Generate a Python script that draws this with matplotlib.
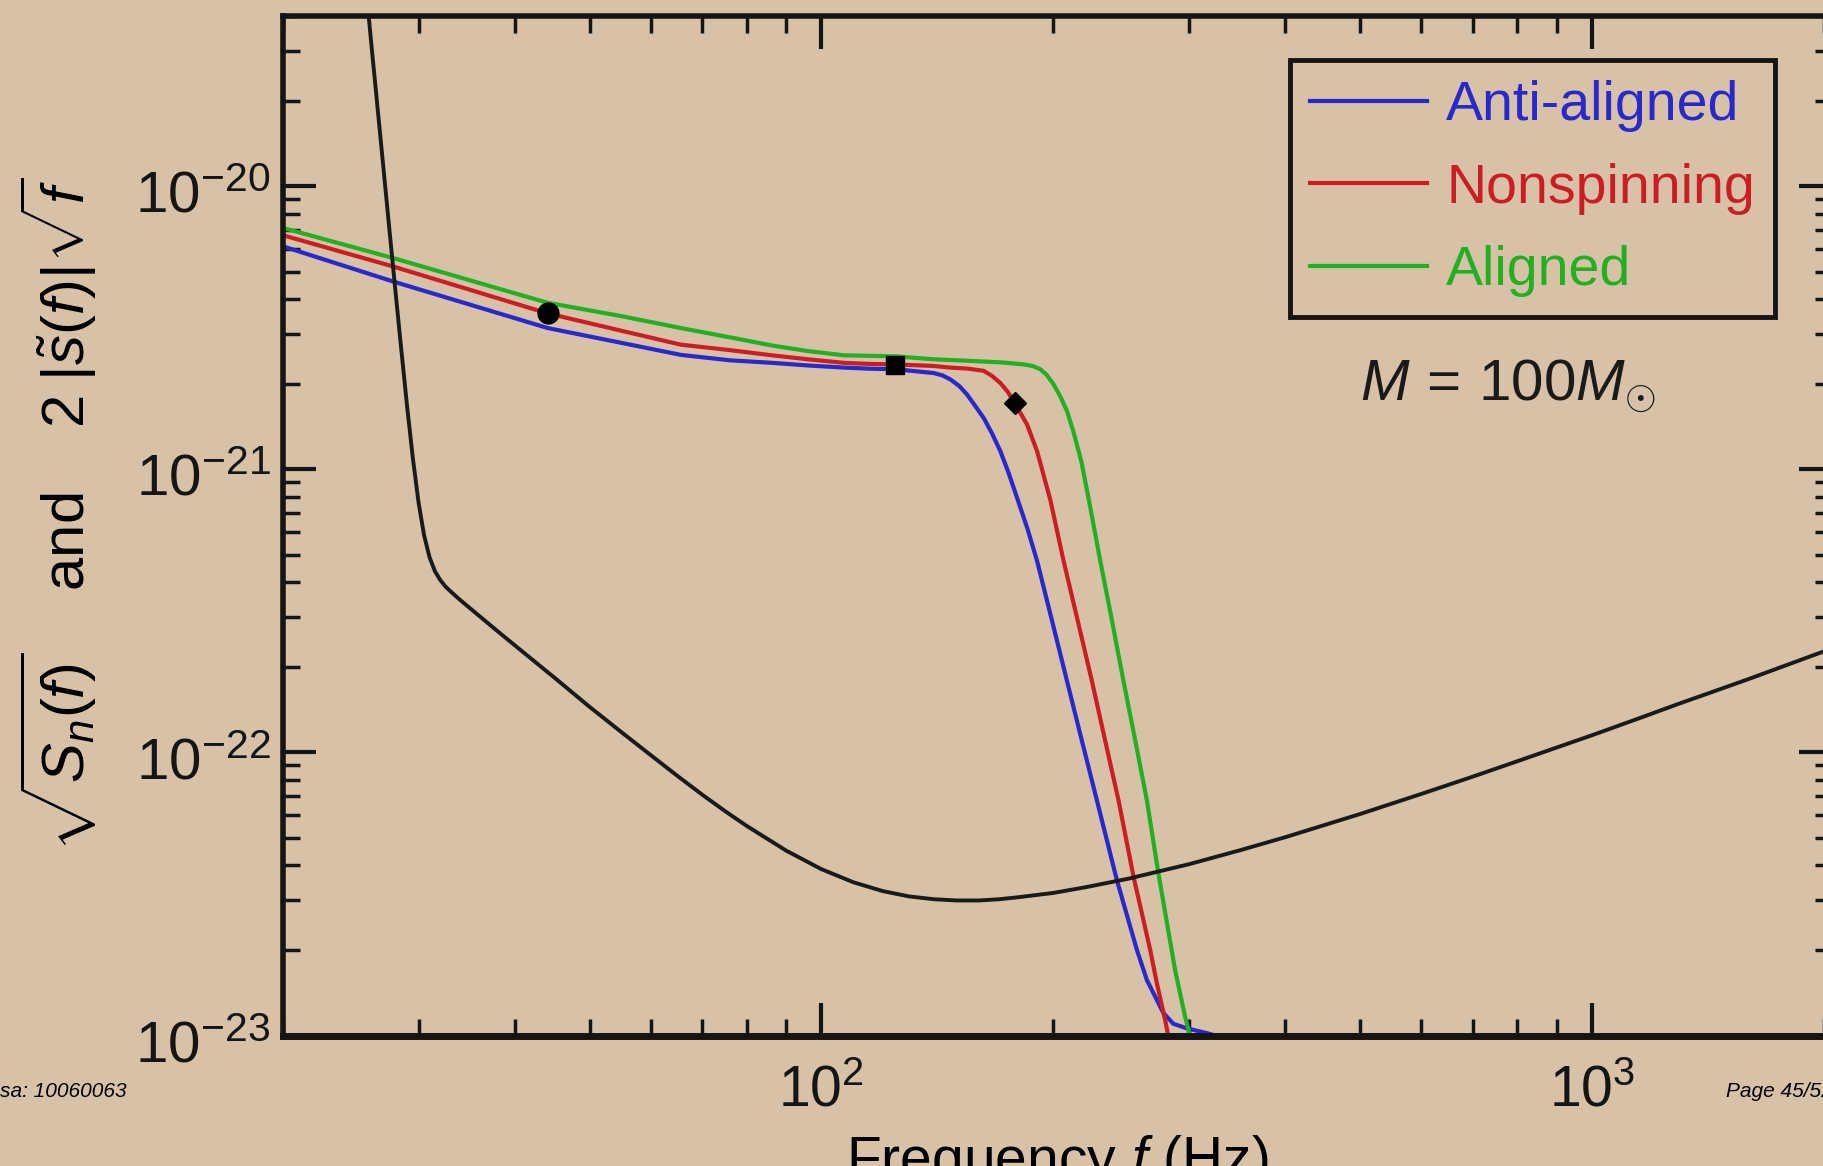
import numpy as np
import matplotlib
matplotlib.use('Agg')
import matplotlib.pyplot as plt
import matplotlib.transforms as mtransforms
from matplotlib.ticker import LogLocator, NullFormatter

bg = '#d7c2a7'

# detector noise, sqrt(Sn(f))
noise_f = [25, 25.5, 26, 26.5, 27, 27.5, 28, 28.5, 29, 29.5,
           30, 30.5, 31, 31.5, 32, 32.5, 33, 34, 35, 36,
           38, 40, 45, 50, 55, 60, 65, 70, 75, 80,
           90, 100, 110, 120, 130, 140, 150, 160, 170, 180,
           200, 220, 250, 300, 350, 400, 500, 600, 700, 800,
           900, 1000, 1150, 1300, 1450, 1600, 1800, 2048]
noise_amp = [1.0e-19, 5.87e-20, 3.35e-20, 1.97e-20, 1.17e-20, 6.99e-21, 4.24e-21, 2.62e-21, 1.65e-21, 1.087e-21,
             7.62e-22, 5.84e-22, 4.89e-22, 4.37e-22, 4.07e-22, 3.86e-22, 3.71e-22, 3.45e-22, 3.23e-22, 3.03e-22,
             2.68e-22, 2.39e-22, 1.84e-22, 1.45e-22, 1.18e-22, 9.8e-23, 8.27e-23, 7.1e-23, 6.2e-23, 5.5e-23,
             4.5e-23, 3.87e-23, 3.48e-23, 3.24e-23, 3.10e-23, 3.03e-23, 3.0e-23, 3.0e-23, 3.03e-23, 3.08e-23,
             3.19e-23, 3.34e-23, 3.58e-23, 4.03e-23, 4.52e-23, 5.02e-23, 6.06e-23, 7.13e-23, 8.21e-23, 9.31e-23,
             1.041e-22, 1.15e-22, 1.319e-22, 1.49e-22, 1.655e-22, 1.82e-22, 2.048e-22, 2.33e-22]

# 2|s(f)|sqrt(f) for the three spin cases
anti_f = [20, 27.75, 44.1, 55, 65.65, 76, 86.3, 96, 106.9, 115,
          124.7, 139.9, 143.5, 147.0, 151, 154.5, 158, 162.4, 166.5, 170.7,
          175, 179.4, 185, 190.5, 199.2, 208.3, 217.8, 227.8, 241.8, 256.8,
          264.5, 277.9, 286.3, 298.1, 316.4, 326.0, 340]
anti_amp = [6.14e-21, 4.62e-21, 3.16e-21, 2.80e-21, 2.54e-21, 2.43e-21, 2.38e-21, 2.33e-21, 2.29e-21, 2.27e-21,
            2.26e-21, 2.19e-21, 2.15e-21, 2.08e-21, 1.97e-21, 1.84e-21, 1.69e-21, 1.52e-21, 1.34e-21, 1.16e-21,
            9.7e-22, 7.95e-22, 6.2e-22, 4.75e-22, 2.92e-22, 1.79e-22, 1.10e-22, 6.77e-23, 3.54e-23, 2.00e-23,
            1.57e-23, 1.20e-23, 1.10e-23, 1.06e-23, 1.02e-23, 9.96e-24, 8e-24]

non_f = [20, 27.75, 44.1, 55, 65.65, 76, 86.3, 96, 106.9, 115,
         124.7, 139.9, 147.0, 155, 162.4, 166.5, 170.7, 174.5, 178.1, 184.9,
         190.5, 198.2, 206.2, 215.1, 224.4, 233.5, 243.0, 254.2, 267.2, 272.5,
         279.4, 282.1, 288]
non_amp = [6.72e-21, 5.22e-21, 3.56e-21, 3.09e-21, 2.76e-21, 2.64e-21, 2.53e-21, 2.45e-21, 2.38e-21, 2.36e-21,
           2.35e-21, 2.32e-21, 2.29e-21, 2.27e-21, 2.23e-21, 2.14e-21, 2.02e-21, 1.88e-21, 1.72e-21, 1.44e-21,
           1.16e-21, 7.8e-22, 4.75e-22, 2.92e-22, 1.79e-22, 1.10e-22, 6.77e-23, 3.63e-23, 2.00e-23, 1.53e-23,
           1.13e-23, 9.9e-24, 7e-24]

al_f = [20, 27.75, 44.1, 55, 65.65, 76, 86.3, 96, 106.9, 115,
        124.7, 139.9, 155, 170.7, 183.0, 188, 192.3, 196, 200.1, 204,
        208.3, 212.5, 217.4, 223, 230.1, 238.3, 246.6, 255.5, 264.5, 273.8,
        287.8, 296.6, 299.5, 303]
al_amp = [7.13e-21, 5.59e-21, 3.88e-21, 3.48e-21, 3.16e-21, 2.93e-21, 2.74e-21, 2.62e-21, 2.53e-21, 2.52e-21,
          2.51e-21, 2.45e-21, 2.42e-21, 2.39e-21, 2.35e-21, 2.32e-21, 2.26e-21, 2.16e-21, 2.00e-21, 1.82e-21,
          1.61e-21, 1.35e-21, 1.07e-21, 7.5e-22, 4.75e-22, 2.92e-22, 1.79e-22, 1.10e-22, 6.77e-23, 3.73e-23,
          1.70e-23, 1.16e-23, 1.05e-23, 7e-24]

mark_f = [44.1, 124.7, 178.1]
mark_amp = [3.56e-21, 2.34e-21, 1.72e-21]
mark_sym = ['o', 's', 'D']
mark_size = [15, 13, 11]

plt.rcParams['font.family'] = ['Liberation Sans', 'DejaVu Sans']
plt.rcParams['mathtext.fontset'] = 'custom'
plt.rcParams['mathtext.rm'] = 'Liberation Sans'
plt.rcParams['mathtext.it'] = 'Liberation Sans:italic'
plt.rcParams['mathtext.bf'] = 'Liberation Sans:bold'

fig = plt.figure(figsize=(18.23, 11.66), dpi=100, facecolor=bg)
ax = fig.add_axes([0.1552, 0.1119, 0.8496, 0.8744], facecolor=bg)

ax.loglog(anti_f, anti_amp, color='#2828cc', lw=3, label='Anti-aligned')
ax.loglog(non_f, non_amp, color='#cc1c26', lw=3, label='Nonspinning')
ax.loglog(al_f, al_amp, color='#22b022', lw=3, label='Aligned')
ax.loglog(noise_f, noise_amp, color='#1a1a1a', lw=2.8, zorder=3)
for f, a, m, s in zip(mark_f, mark_amp, mark_sym, mark_size):
    ax.plot(f, a, marker=m, color='k', ms=s, ls='none', zorder=4)

ax.set_xlim(20, 2048)
ax.set_ylim(1e-23, 4e-20)

ax.yaxis.set_minor_locator(LogLocator(base=10, subs=np.arange(2, 10), numticks=20))
ax.xaxis.set_minor_locator(LogLocator(base=10, subs=np.arange(2, 10), numticks=20))
ax.xaxis.set_minor_formatter(NullFormatter())
ax.yaxis.set_minor_formatter(NullFormatter())
ax.tick_params(which='both', direction='in', top=True, right=True, colors='#151515')
ax.tick_params(which='major', length=24, width=3)
ax.tick_params(which='minor', length=12.5, width=2.5)
ax.tick_params(axis='x', which='major', labelsize=41, pad=21)
ax.tick_params(axis='y', which='major', labelsize=42, pad=9)
for side in ['left', 'top', 'right']:
    ax.spines[side].set_linewidth(4)
ax.spines['bottom'].set_linewidth(5)
for sp in ax.spines.values():
    sp.set_color('#151515')

# y tick labels sit a little below their ticks in the original
shift = mtransforms.ScaledTranslation(0, -4 / 72, fig.dpi_scale_trans)
for lab in ax.yaxis.get_majorticklabels():
    lab.set_transform(lab.get_transform() + shift)

ax.set_ylabel(r'$\sqrt{S_n(f)}\quad\;\mathrm{and}\quad\; 2\;|\tilde{s}(f)|\sqrt{f}$', fontsize=43)
ax.yaxis.set_label_coords(-0.119, 0.511)
ax.set_xlabel(r'Frequency $f$ (Hz)', fontsize=41)
ax.xaxis.set_label_coords(0.5, -0.096)

leg = ax.legend(loc='upper right', bbox_to_anchor=(0.9633, 0.9568), fontsize=40,
                frameon=True, fancybox=False, edgecolor='#151515', facecolor=bg,
                framealpha=1, borderpad=0.36, labelspacing=0.55, handlelength=2.1,
                handletextpad=0.35, borderaxespad=0, labelcolor='linecolor')
leg.get_frame().set_linewidth(3.5)

ax.text(0.6954, 0.637, r'$M\,=\,100M_{\odot}$', fontsize=42, transform=ax.transAxes,
        va='center', ha='left', color='#1a1a1a')

fig.text(0.0, 1 - 1097 / 1166, 'sa: 10060063', fontsize=15, style='italic', va='baseline')
fig.text(1726 / 1823, 1 - 1097 / 1166, 'Page 45/52', fontsize=15, style='italic', va='baseline')

fig.savefig('out.png', dpi=100, facecolor=bg)
